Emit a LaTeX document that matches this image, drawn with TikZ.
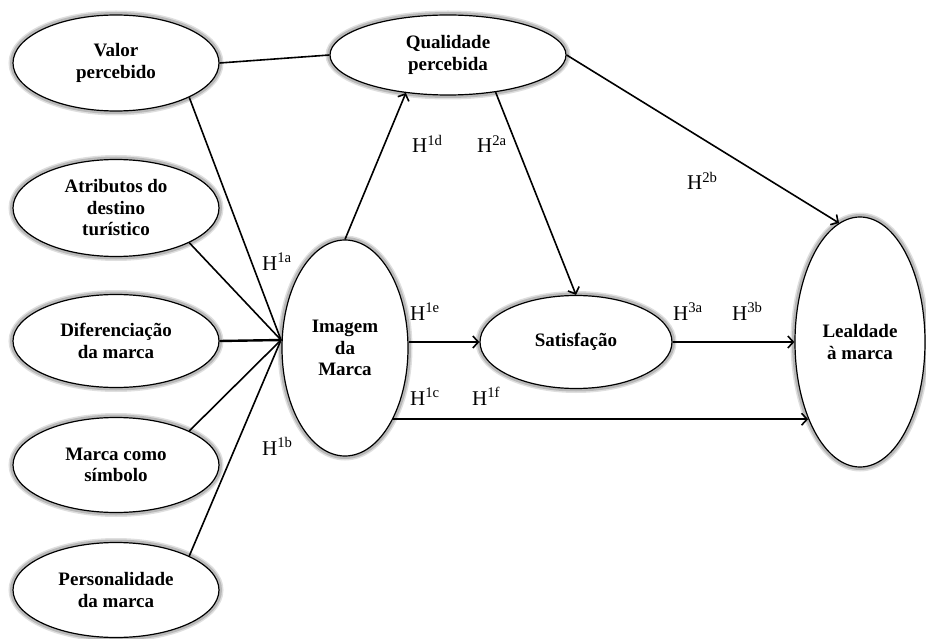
\documentclass[tikz,border=0pt]{standalone}
\usepackage{fontspec}
\setmainfont{Liberation Serif}
\usetikzlibrary{shapes.geometric,arrows.meta}
\begin{document}
\begin{tikzpicture}[x=1pt,y=-1pt,
  lat/.style={ellipse, draw=black, line width=1.2pt, fill=white, inner sep=0pt, align=center,
     font=\fontsize{19}{21.5}\selectfont\bfseries,
     preaction={draw=gray!25, line width=9pt},
     preaction={draw=gray!55, line width=6pt}},
  conn/.style={line width=1.6pt, black},
  arr/.style={conn, -{Straight Barb[length=5.5pt,width=12pt,line width=1.6pt]}},
  hyp/.style={anchor=base west, inner sep=0pt, font=\fontsize{21}{24}\selectfont}
]
\useasboundingbox (0,0) rectangle (926,639);

\node[lat, minimum width=206, minimum height=96] (V) at (116,63) {Valor\\percebido};
\node[lat, minimum width=206, minimum height=97] (A) at (116,208) {Atributos do\\destino\\turístico};
\node[lat, minimum width=206, minimum height=93] (D) at (116,341) {Diferenciação\\da marca};
\node[lat, minimum width=206, minimum height=95] (M) at (116,465) {Marca como\\símbolo};
\node[lat, minimum width=206, minimum height=95] (P) at (116,590) {Personalidade\\da marca};
\node[lat, minimum width=236, minimum height=80] (Q) at (448,55) {Qualidade\\percebida};
\node[lat, minimum width=126, minimum height=216] (I) at (345,348) {Imagem\\da\\Marca};
\node[lat, minimum width=192, minimum height=93] (S) at (576,342) {Satisfação};
\node[lat, minimum width=130, minimum height=250] (L) at (860,342) {Lealdade\\à marca};

\coordinate (hub) at (281,340);
\draw[conn] (V.south east) -- (hub);
\draw[conn] (A.south east) -- (hub);
\draw[conn, line width=2.4pt] (D.east) -- (hub);
\draw[conn] (M.north east) -- (hub);
\draw[conn] (P.north east) -- (hub);
\draw[conn] (V.east) -- (Q.west);
\draw[arr] (I.north) -- (Q.222);
\draw[arr] (Q.-38) -- (S.north);
\draw[arr] (Q.east) -- (L.100);
\draw[arr] (S.west -| I.east) -- (S.west);
\draw[arr] (S.east) -- (L.west);
\draw[arr] (I.-56) -- (I.-56 -| L.236);

\node[hyp] (h1a) at (262,270) {H\textsuperscript{1a}};
\node[hyp] (h1d) at (412,153) {H\textsuperscript{1d}};
\node[hyp] (h2a) at (477,153) {H\textsuperscript{2a}};
\node[hyp] (h2b) at (687,190) {H\textsuperscript{2b}};
\node[hyp] (h1e) at (410,320) {H\textsuperscript{1e}};
\node[hyp] (h3a) at (673,320) {H\textsuperscript{3a}};
\node[hyp] (h3b) at (732,320) {H\textsuperscript{3b}};
\node[hyp] (h1c) at (410,405) {H\textsuperscript{1c}};
\node[hyp] (h1f) at (472,405) {H\textsuperscript{1f}};
\node[hyp] (h1b) at (262,455) {H\textsuperscript{1b}};
\end{tikzpicture}
\end{document}
